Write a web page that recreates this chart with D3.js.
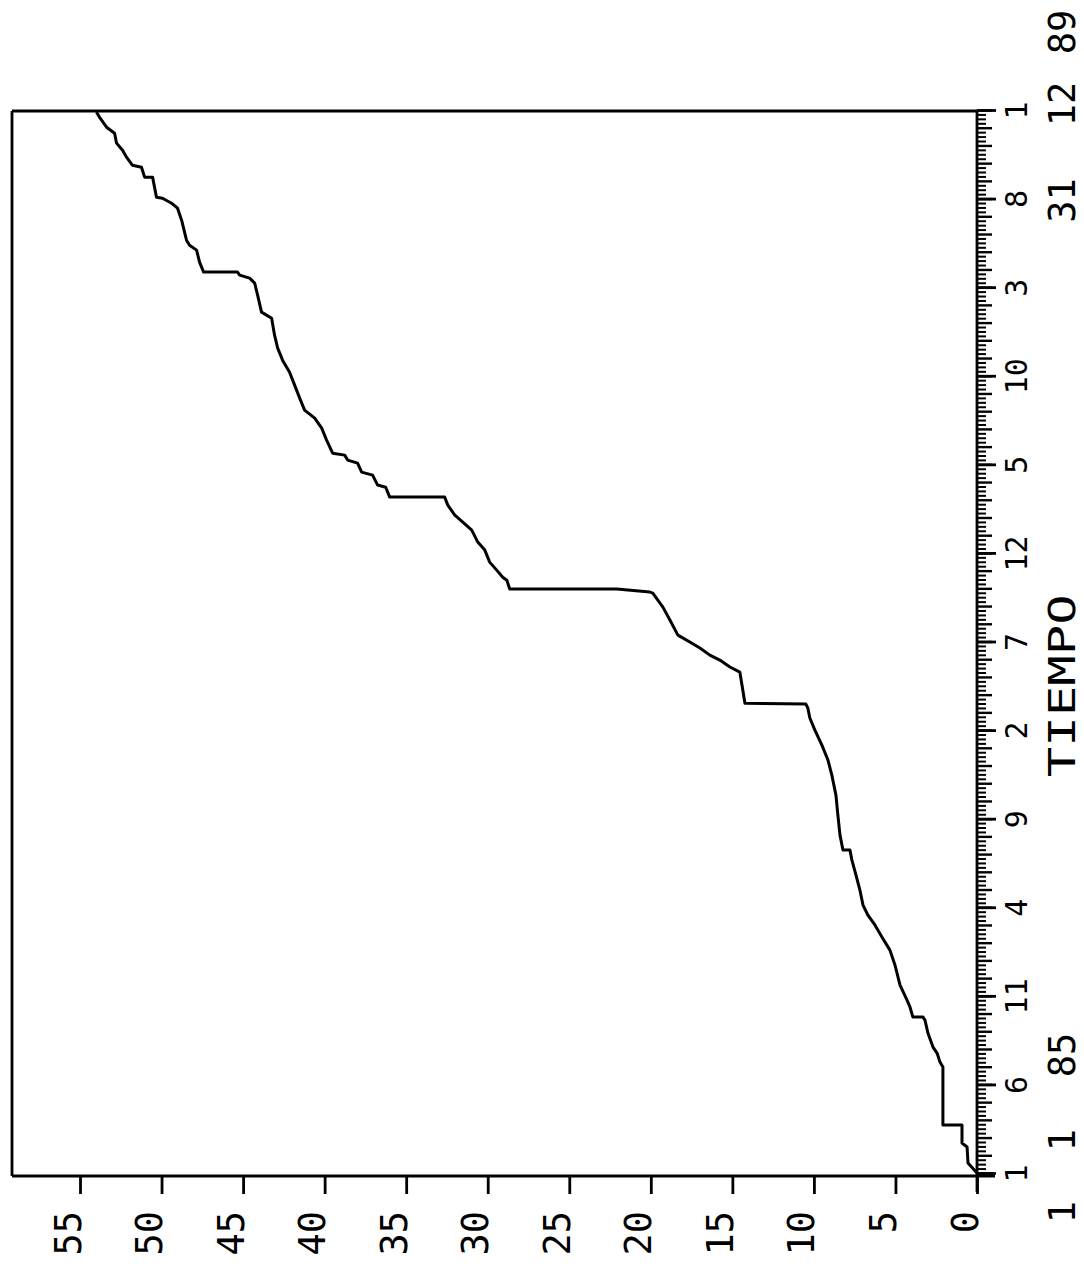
<!DOCTYPE html>
<html>
<head>
<meta charset="utf-8">
<script src="https://cdn.jsdelivr.net/npm/d3@7"></script>
<style>
  body { margin: 0; background: #fff; }
  text { font-family: "DejaVu Sans Mono", monospace; fill: #000; }
</style>
</head>
<body>
<svg id="vis"></svg>
<script>
const WIDTH = 1084;
const HEIGHT = 1268;

// meses desde 1/1/85 y valor acumulado
const MESES = [0, 0.56, 1.47, 1.69, 2.71, 2.71, 5.98, 6.26, 6.77, 7.11, 7.90, 8.63, 8.80, 8.80, 9.37, 9.76,
  10.61, 11.74, 12.58, 13.32, 14.0, 14.56, 15.12, 15.97, 16.82, 17.66, 18.23, 18.23, 19.07, 20.20, 21.33,
  22.46, 23.31, 24.15, 25.0, 25.68, 26.24, 26.47, 26.52, 27.26, 28.27, 28.56, 28.95, 29.23, 29.63, 29.97,
  30.36, 31.21, 31.94, 32.73, 32.79, 32.96, 32.96, 33.46, 33.63, 34.03, 34.48, 35.16, 35.61, 36.29, 36.74,
  37.13, 37.70, 38.15, 38.15, 38.71, 38.83, 39.39, 39.56, 40.07, 40.24, 40.52, 40.63, 41.37, 42.04, 42.61,
  43.06, 43.74, 44.47, 45.20, 45.88, 46.56, 47.29, 48.25, 48.59, 49.55, 50.23, 50.51, 50.68, 50.85, 50.85,
  51.41, 52.09, 52.37, 52.65, 53.78, 54.46, 54.74, 55.02, 55.08, 56.21, 56.21, 56.77, 56.88, 57.34, 57.73,
  58.13, 58.69, 59.03, 59.59, 59.88];
const VALORES = [0, 0.55, 0.61, 0.92, 0.92, 2.09, 2.09, 2.27, 2.45, 2.70, 3.01, 3.19, 3.31, 3.93, 4.11, 4.29,
  4.72, 5.03, 5.34, 5.83, 6.26, 6.69, 6.99, 7.18, 7.42, 7.67, 7.79, 8.22, 8.40, 8.53, 8.65,
  8.90, 9.14, 9.51, 9.94, 10.25, 10.37, 10.49, 14.23, 14.36, 14.54, 15.15, 15.77, 16.38, 16.99, 17.61,
  18.34, 18.83, 19.26, 19.88, 20.06, 22.09, 28.65, 28.83, 29.08, 29.45, 29.88, 30.18, 30.61, 30.98, 31.53,
  32.02, 32.45, 32.64, 36.01, 36.26, 36.75, 37.06, 37.73, 37.98, 38.59, 38.77, 39.51, 39.88, 40.18, 40.61,
  41.23, 41.53, 41.84, 42.15, 42.58, 42.88, 43.07, 43.25, 43.87, 44.11, 44.29, 44.60, 45.21, 45.34, 47.42,
  47.67, 47.85, 48.28, 48.47, 48.77, 49.02, 49.39, 49.94, 50.31, 50.55, 51.04, 51.23, 51.78, 52.15, 52.39,
  52.76, 52.88, 53.37, 53.80, 53.99];

const VALUE_TICKS = [0, 5, 10, 15, 20, 25, 30, 35, 40, 45, 50, 55];
const MONTH_TICKS = [0, 5, 10, 15, 20, 25, 30, 35, 40, 45, 50, 55, 60];
const MONTH_LABELS = ["1", "6", "11", "4", "9", "2", "7", "12", "5", "10", "3", "8", "1"];
const START_DATE = ["1", "1", "85"];
const END_DATE = ["31", "12", "89"];
const TITULO = "TIEMPO";

const svg = d3.select("#vis")
    .attr("width", WIDTH)
    .attr("height", HEIGHT);

// el grafico esta girado: valores de derecha a izquierda, tiempo de abajo hacia arriba
const escalaV = d3.scaleLinear().domain([0, 55]).range([977, 80]);
const escalaT = d3.scaleLinear().domain([0, 60]).range([1173, 110]);

const IZQ = 12;
const ARRIBA = 111;
const BASE = 1176;
const EJE_T = escalaV(0);

// marco
svg.append("line").attr("x1", IZQ).attr("x2", EJE_T).attr("y1", ARRIBA).attr("y2", ARRIBA);
svg.append("line").attr("x1", IZQ).attr("x2", IZQ).attr("y1", ARRIBA).attr("y2", BASE);
svg.append("line").attr("x1", IZQ).attr("x2", EJE_T + 18).attr("y1", BASE).attr("y2", BASE);
svg.append("line").attr("x1", EJE_T).attr("x2", EJE_T).attr("y1", escalaT(60)).attr("y2", BASE + 16);
svg.selectAll("line").attr("stroke", "#000").attr("stroke-width", 2.8);

// eje de valores
const ejeV = d3.axisBottom(escalaV).tickValues(VALUE_TICKS).tickSize(18).tickFormat(d3.format("d"));
const gV = svg.append("g").attr("transform", `translate(0,${BASE})`).call(ejeV);
gV.select(".domain").remove();
gV.selectAll(".tick line").attr("stroke", "#000").attr("stroke-width", 2.8);
gV.selectAll(".tick text")
    .attr("x", 0).attr("y", 0).attr("dy", null)
    .attr("font-size", 37)
    .attr("text-anchor", "end")
    .attr("transform", "translate(0,35) rotate(-90)");

// eje de tiempo: subdivisiones, meses y etiquetas
const menores = d3.range(0, 240).map(i => i / 4).filter(d => d % 1 !== 0);
const meses = d3.range(0, 61);

function ejeTiempo(valores, largo, grosor) {
    const g = svg.append("g")
        .attr("transform", `translate(${EJE_T},0)`)
        .call(d3.axisRight(escalaT).tickValues(valores).tickSize(largo).tickFormat(""));
    g.select(".domain").remove();
    g.selectAll(".tick line").attr("stroke", "#000").attr("stroke-width", grosor);
    return g;
}
ejeTiempo(menores, 9, 2);
ejeTiempo(meses, 15, 2.4);
const gT = ejeTiempo(MONTH_TICKS, 19, 2.8);
gT.selectAll(".tick text")
    .text((d, i) => MONTH_LABELS[i])
    .attr("x", 0).attr("y", 0).attr("dy", null)
    .attr("font-size", 30)
    .attr("text-anchor", "middle")
    .attr("transform", "translate(50,0) rotate(-90)");

// fechas de inicio y fin, titulo
const BASE_TXT = EJE_T + 98;
function rotado(texto, yc, tam) {
    return svg.append("text")
        .attr("text-anchor", "middle")
        .attr("font-size", tam)
        .attr("transform", `translate(${BASE_TXT},${yc}) rotate(-90)`)
        .text(texto);
}
[escalaT(0) + 39, escalaT(0) - 33, escalaT(0) - 118].forEach((yc, i) => rotado(START_DATE[i], yc, 37));
[escalaT(55) + 2, escalaT(60) - 6, escalaT(60) - 78].forEach((yc, i) => rotado(END_DATE[i], yc, 37));
rotado(TITULO, (escalaT(30) + escalaT(25)) / 2, 37).attr("textLength", 183).attr("lengthAdjust", "spacingAndGlyphs");

// curva
const datos = MESES.map((m, i) => ({ m: m, v: VALORES[i] }));
const linea = d3.line()
    .x(d => escalaV(d.v))
    .y(d => escalaT(d.m));
svg.append("path")
    .datum(datos)
    .attr("d", linea)
    .attr("fill", "none")
    .attr("stroke", "#000")
    .attr("stroke-width", 3)
    .attr("stroke-linejoin", "round");
</script>
</body>
</html>
